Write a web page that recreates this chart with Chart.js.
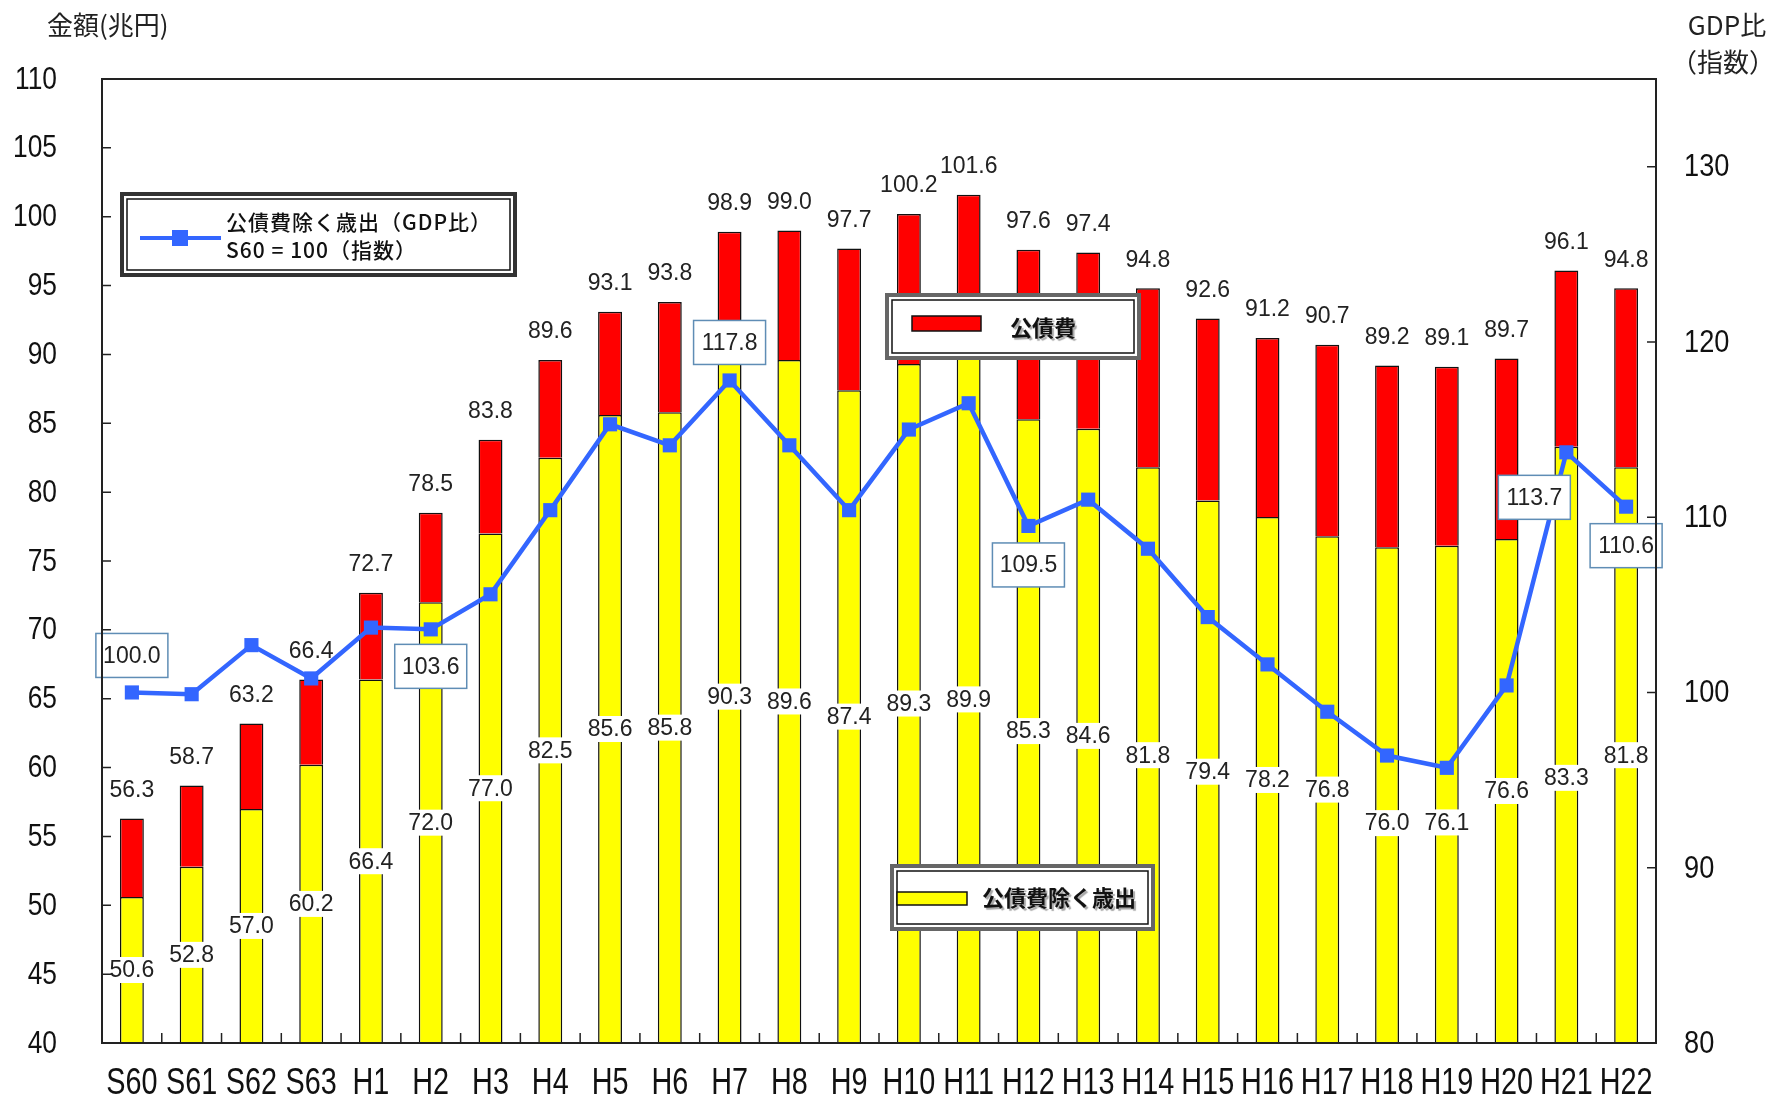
<!DOCTYPE html>
<html lang="ja">
<head>
<meta charset="utf-8">
<title>歳出の推移</title>
<script src="https://cdn.jsdelivr.net/npm/chart.js@4.4.1/dist/chart.umd.min.js"></script>
<style>
  html, body { margin: 0; padding: 0; background: #fff; }
  #wrap { width: 1787px; height: 1102px; position: relative; }
</style>
</head>
<body>
<div id="wrap"><canvas id="spendChart"></canvas></div>
<script>
// 年度
const years = ['S60', 'S61', 'S62', 'S63', 'H1', 'H2', 'H3', 'H4', 'H5', 'H6', 'H7', 'H8', 'H9',
  'H10', 'H11', 'H12', 'H13', 'H14', 'H15', 'H16', 'H17', 'H18', 'H19', 'H20', 'H21', 'H22'];

// 歳出総額（兆円）
const totalSpend = [56.3, 58.7, 63.2, 66.4, 72.7, 78.5, 83.8, 89.6, 93.1, 93.8, 98.9, 99.0, 97.7,
  100.2, 101.6, 97.6, 97.4, 94.8, 92.6, 91.2, 90.7, 89.2, 89.1, 89.7, 96.1, 94.8];

// 公債費除く歳出（兆円）
const exDebtSpend = [50.6, 52.8, 57.0, 60.2, 66.4, 72.0, 77.0, 82.5, 85.6, 85.8, 90.3, 89.6, 87.4,
  89.3, 89.9, 85.3, 84.6, 81.8, 79.4, 78.2, 76.8, 76.0, 76.1, 76.6, 83.3, 81.8];

// 公債費 = 総額 - 公債費除く歳出
const debtService = totalSpend.map((t, i) => Math.round((t - exDebtSpend[i]) * 10) / 10);

// 公債費除く歳出（GDP比）S60 = 100
const gdpIndex = [100.0, 99.9, 102.7, 100.8, 103.7, 103.6, 105.6, 110.4, 115.3, 114.1, 117.8, 114.1, 110.4,
  115.0, 116.5, 109.5, 111.0, 108.2, 104.3, 101.6, 98.9, 96.4, 95.7, 100.4, 113.7, 110.6];

// 目盛
const leftTickLabels = [40, 45, 50, 55, 60, 65, 70, 75, 80, 85, 90, 95, 100, 105, 110];
const rightTickLabels = [80, 90, 100, 110, 120, 130];
const RIGHT_MAX = 135;

const NUM_FONT = '"Liberation Sans", Arial, sans-serif';
const JP_FONT = '"Noto Sans CJK JP", "Noto Sans", sans-serif';
const LINE_BLUE = '#3366ff';

// narrow tick text: regular face squeezed horizontally
function squeezedText(ctx, txt, x, y, align, sx) {
  ctx.save();
  ctx.translate(x, y);
  ctx.scale(sx, 1);
  ctx.textAlign = align;
  ctx.fillText(txt, 0, 0);
  ctx.restore();
}

// frame, inward tick marks, tick labels and axis titles
const framePlugin = {
  id: 'frame',
  afterDraw(chart) {
    const { ctx, chartArea: a, scales } = chart;
    ctx.save();
    ctx.strokeStyle = '#222';
    ctx.lineWidth = 1.5;
    ctx.beginPath();
    leftTickLabels.forEach(v => {
      const py = scales.y.getPixelForValue(v);
      ctx.moveTo(a.left, py); ctx.lineTo(a.left + 9, py);
    });
    rightTickLabels.forEach(v => {
      const py = scales.y1.getPixelForValue(v);
      ctx.moveTo(a.right, py); ctx.lineTo(a.right - 9, py);
    });
    for (let i = 1; i < years.length; i++) {
      const px = (scales.x.getPixelForValue(i - 1) + scales.x.getPixelForValue(i)) / 2;
      ctx.moveTo(px, a.bottom); ctx.lineTo(px, a.bottom - 10);
    }
    ctx.stroke();
    ctx.lineWidth = 2;
    ctx.strokeRect(a.left, a.top, a.right - a.left, a.bottom - a.top);

    ctx.fillStyle = '#111';
    ctx.textBaseline = 'middle';
    ctx.font = '31px ' + NUM_FONT;
    leftTickLabels.forEach(v => {
      squeezedText(ctx, String(v), a.left - 45, scales.y.getPixelForValue(v) + 1, 'right', 0.85);
    });
    ctx.font = '32px ' + NUM_FONT;
    rightTickLabels.forEach(v => {
      squeezedText(ctx, String(v), a.right + 28, scales.y1.getPixelForValue(v) + 1, 'left', 0.85);
    });
    ctx.font = '36px ' + NUM_FONT;
    years.forEach((lab, i) => {
      squeezedText(ctx, lab, scales.x.getPixelForValue(i), a.bottom + 41, 'center', 0.8);
    });

    ctx.fillStyle = '#222';
    ctx.font = '26px ' + JP_FONT;
    ctx.textAlign = 'left';
    ctx.fillText('金額(兆円)', 47, 25);
    ctx.textAlign = 'center';
    ctx.fillText('GDP比', 1727, 25);
    ctx.fillText('（指数）', 1723, 62);
    ctx.restore();
  }
};

// value labels and the three legend boxes
const labelPlugin = {
  id: 'valueLabels',
  afterDatasetsDraw(chart) {
    const { ctx, chartArea: a } = chart;
    const yellowBars = chart.getDatasetMeta(0).data;
    const redBars = chart.getDatasetMeta(1).data;
    const points = chart.getDatasetMeta(2).data;
    ctx.save();
    ctx.textAlign = 'center';
    ctx.textBaseline = 'middle';
    ctx.font = '23px ' + NUM_FONT;

    // 公債費除く歳出: centred in the visible yellow segment, a few moved clear of the line
    const nudge = { 21: 28, 22: 28, 24: 33 };
    yellowBars.forEach((bar, i) => {
      const txt = exDebtSpend[i].toFixed(1);
      const cy = (bar.y + Math.min(bar.base, a.bottom)) / 2 + (nudge[i] || 0);
      const w = ctx.measureText(txt).width + 6;
      ctx.fillStyle = '#fff';
      ctx.fillRect(bar.x - w / 2, cy - 13, w, 26);
      ctx.fillStyle = '#222';
      ctx.fillText(txt, bar.x, cy + 1);
    });

    // 総額 above each stack
    redBars.forEach((bar, i) => {
      ctx.fillStyle = '#222';
      ctx.fillText(totalSpend[i].toFixed(1), bar.x, bar.y - 28);
    });

    // GDP比 boxes on selected points
    const boxAt = { 0: [0, -37], 5: [0, 37], 10: [0, -38], 15: [0, 39], 24: [-32, 45], 25: [0, 39] };
    Object.keys(boxAt).forEach(k => {
      const i = +k;
      const p = points[i];
      const cx = p.x + boxAt[k][0];
      const cy = p.y + boxAt[k][1];
      ctx.fillStyle = '#fff';
      ctx.fillRect(cx - 36, cy - 22, 72, 44);
      ctx.strokeStyle = '#5f8db5';
      ctx.lineWidth = 1.5;
      ctx.strokeRect(cx - 36, cy - 22, 72, 44);
      ctx.fillStyle = '#222';
      ctx.fillText(gdpIndex[i].toFixed(1), cx, cy + 1);
    });

    const frameBox = (x1, y1, x2, y2, outer) => {
      ctx.fillStyle = '#fff';
      ctx.fillRect(x1, y1, x2 - x1, y2 - y1);
      ctx.strokeStyle = outer;
      ctx.lineWidth = 4;
      ctx.strokeRect(x1 + 2, y1 + 2, x2 - x1 - 4, y2 - y1 - 4);
      ctx.strokeStyle = '#111';
      ctx.lineWidth = 1.5;
      ctx.strokeRect(x1 + 7, y1 + 7, x2 - x1 - 14, y2 - y1 - 14);
    };

    // line legend
    frameBox(120, 192, 517, 277, '#333');
    ctx.strokeStyle = LINE_BLUE;
    ctx.lineWidth = 4;
    ctx.beginPath(); ctx.moveTo(140, 238); ctx.lineTo(221, 238); ctx.stroke();
    ctx.fillStyle = LINE_BLUE;
    ctx.fillRect(172, 230, 16, 16);
    ctx.fillStyle = '#111';
    ctx.textAlign = 'left';
    ctx.font = '500 21px ' + JP_FONT;
    ctx.letterSpacing = '1px';
    ctx.fillText('公債費除く歳出（GDP比）', 226, 222);
    ctx.fillText('S60 = 100（指数）', 226, 250);
    ctx.letterSpacing = '0px';

    // bar legends
    const barLegend = (x1, y1, x2, y2, sw, color, label, tx, ty) => {
      frameBox(x1, y1, x2, y2, '#666');
      ctx.fillStyle = color;
      ctx.fillRect(sw[0], sw[1], sw[2], sw[3]);
      ctx.strokeStyle = '#111';
      ctx.lineWidth = 1.5;
      ctx.strokeRect(sw[0], sw[1], sw[2], sw[3]);
      ctx.save();
      ctx.font = 'bold 22px ' + JP_FONT;
      ctx.shadowColor = 'rgba(0,0,0,0.35)';
      ctx.shadowOffsetX = 2;
      ctx.shadowOffsetY = 2;
      ctx.shadowBlur = 1;
      ctx.fillStyle = '#111';
      ctx.fillText(label, tx, ty);
      ctx.restore();
    };
    barLegend(885, 293, 1141, 360, [912, 316, 69, 15], '#ff0000', '公債費', 1010, 328);
    barLegend(890, 864, 1155, 931, [897, 892, 70, 13], '#ffff00', '公債費除く歳出', 982, 898);

    ctx.restore();
  }
};

new Chart(document.getElementById('spendChart'), {
  data: {
    labels: years,
    datasets: [
      {
        type: 'bar',
        label: '公債費除く歳出',
        data: exDebtSpend,
        backgroundColor: '#ffff00',
        borderColor: '#111',
        borderWidth: 1.5,
        barPercentage: 0.4,
        categoryPercentage: 1.0,
        yAxisID: 'y',
        order: 2
      },
      {
        type: 'bar',
        label: '公債費',
        data: debtService,
        backgroundColor: '#ff0000',
        borderColor: '#111',
        borderWidth: 1.5,
        barPercentage: 0.4,
        categoryPercentage: 1.0,
        yAxisID: 'y',
        order: 2
      },
      {
        type: 'line',
        label: '公債費除く歳出(GDP比) S60 = 100(指数)',
        data: gdpIndex,
        borderColor: LINE_BLUE,
        backgroundColor: LINE_BLUE,
        borderWidth: 4.5,
        pointStyle: 'rect',
        pointRadius: 10,
        pointBorderWidth: 0,
        tension: 0,
        yAxisID: 'y1',
        order: 1
      }
    ]
  },
  options: {
    responsive: true,
    maintainAspectRatio: false,
    animation: false,
    layout: { padding: { top: 79, left: 0, right: 0, bottom: 0 } },
    plugins: {
      legend: { display: false },
      tooltip: { enabled: false }
    },
    scales: {
      x: {
        stacked: true,
        grid: { display: false },
        border: { display: false },
        ticks: { display: false, autoSkip: false },
        afterFit(scale) { scale.height = 59; }
      },
      y: {
        stacked: true,
        position: 'left',
        min: leftTickLabels[0],
        max: leftTickLabels[leftTickLabels.length - 1],
        grid: { display: false },
        border: { display: false },
        ticks: { display: false, stepSize: 5 },
        afterFit(scale) { scale.width = 102; }
      },
      y1: {
        position: 'right',
        min: rightTickLabels[0],
        max: RIGHT_MAX,
        grid: { display: false },
        border: { display: false },
        ticks: { display: false, stepSize: 10 },
        afterFit(scale) { scale.width = 131; }
      }
    }
  },
  plugins: [labelPlugin, framePlugin]
});
</script>
</body>
</html>
